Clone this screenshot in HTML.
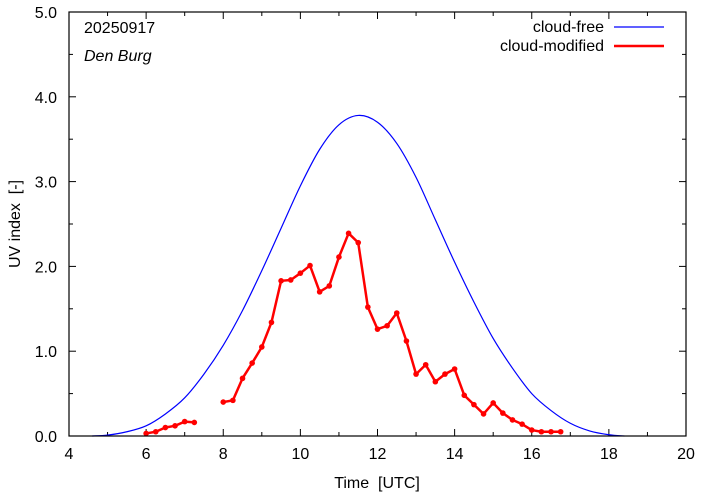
<!DOCTYPE html>
<html><head><meta charset="utf-8"><style>
html,body{margin:0;padding:0;background:#fff;}
svg{display:block;font-family:"Liberation Sans",sans-serif;}
svg text{white-space:pre;}
</style></head><body>
<svg id="chart" width="702" height="497" viewBox="0 0 702 497" xmlns="http://www.w3.org/2000/svg">
<g id="axes"></g>
<g id="series"></g>
<rect x="69" y="12" width="617" height="424" fill="none" stroke="#000" stroke-width="1.2"/>
<text x="84" y="33" font-size="16">20250917</text>
<text x="84" y="61" font-size="16" font-style="italic">Den Burg</text>
<text x="604" y="32" font-size="16" text-anchor="end">cloud-free</text>
<line x1="614" y1="27" x2="664" y2="27" stroke="#0000ff" stroke-width="1.2"/>
<text x="604" y="51" font-size="16" text-anchor="end">cloud-modified</text>
<line x1="614" y1="46" x2="664" y2="46" stroke="#ff0000" stroke-width="2.5"/>
<text x="377" y="488" font-size="16" text-anchor="middle" xml:space="preserve">Time  [UTC]</text>
<text transform="translate(20,224) rotate(-90)" font-size="16" text-anchor="middle" xml:space="preserve">UV index  [-]</text>
</svg>
<script>
const xTicks = [4,6,8,10,12,14,16,18,20];
const yTicks = [0,1,2,3,4,5];
const yTickLabels = ["0.0","1.0","2.0","3.0","4.0","5.0"];
const clearTimes = [4.6,5,5.5,6,6.5,7,7.5,8,8.5,9,9.5,10,10.5,11,11.5,12,12.5,13,13.5,14,14.5,15,15.5,16,16.5,17,17.5,18,18.4];
const clearValues = [0,0.01,0.05,0.12,0.26,0.45,0.73,1.07,1.48,1.95,2.45,2.95,3.38,3.67,3.78,3.70,3.45,3.05,2.55,2.05,1.58,1.15,0.8,0.5,0.3,0.15,0.06,0.015,0];
const cloudTimesA = [6,6.25,6.5,6.75,7,7.25];
const cloudValuesA = [0.03,0.05,0.10,0.12,0.17,0.16];
const cloudTimesB = [8,8.25,8.5,8.75,9,9.25,9.5,9.75,10,10.25,10.5,10.75,11,11.25,11.5,11.75,12,12.25,12.5,12.75,13,13.25,13.5,13.75,14,14.25,14.5,14.75,15,15.25,15.5,15.75,16,16.25,16.5,16.75];
const cloudValuesB = [0.40,0.42,0.68,0.86,1.05,1.34,1.83,1.84,1.92,2.01,1.70,1.77,2.11,2.39,2.28,1.52,1.26,1.30,1.45,1.12,0.73,0.84,0.64,0.73,0.79,0.48,0.37,0.26,0.39,0.27,0.19,0.14,0.07,0.05,0.05,0.05];

const X0=69,X1=686,Y0=436,Y1=12;
function sx(t){return X0+(t-4)/(20-4)*(X1-X0);}
function sy(v){return Y0-(v/5)*(Y0-Y1);}
const NS="http://www.w3.org/2000/svg";
function mk(tag,attrs,parent){const e=document.createElementNS(NS,tag);for(const k in attrs)e.setAttribute(k,attrs[k]);parent.appendChild(e);return e;}
const axes=document.getElementById('axes');
const series=document.getElementById('series');
xTicks.forEach(t=>{
  const x=sx(t);
  const l1=mk('line',{x1:x,y1:Y0,x2:x,y2:Y0-7,stroke:'#000'},axes);
  
  
  const l2=mk('line',{x1:x,y1:Y1,x2:x,y2:Y1+7,stroke:'#000'},axes);
  
  
  if(t<20){const xm=sx(t+1);
    const m1=mk('line',{x1:xm,y1:Y0,x2:xm,y2:Y0-4,stroke:'#000'},axes);
    
    
    const m2=mk('line',{x1:xm,y1:Y1,x2:xm,y2:Y1+4,stroke:'#000'},axes);
    
    }
  const tx=mk('text',{x:x,y:459,'font-size':16,'text-anchor':'middle'},axes);
  tx.textContent=String(t);
  
  
});
yTicks.forEach((v,i)=>{
  const y=sy(v);
  const l1=mk('line',{x1:X0,y1:y,x2:X0+7,y2:y,stroke:'#000'},axes);
  
  
  const l2=mk('line',{x1:X1,y1:y,x2:X1-7,y2:y,stroke:'#000'},axes);
  
  
  if(v<5){const ym=sy(v+0.5);
    const m1=mk('line',{x1:X0,y1:ym,x2:X0+4,y2:ym,stroke:'#000'},axes);
    
    
    const m2=mk('line',{x1:X1,y1:ym,x2:X1-4,y2:ym,stroke:'#000'},axes);
    
    }
  const tx=mk('text',{x:57,y:y+6,'font-size':16,'text-anchor':'end'},axes);
  tx.textContent=yTickLabels[i];
  
  
});
const P=clearTimes.map((t,i)=>[sx(t),sy(clearValues[i])]);
let d='M'+P[0][0]+','+P[0][1];
for(let i=0;i<P.length-1;i++){
  const p0=P[Math.max(0,i-1)],p1=P[i],p2=P[i+1],p3=P[Math.min(P.length-1,i+2)];
  const c1=[p1[0]+(p2[0]-p0[0])/6,p1[1]+(p2[1]-p0[1])/6];
  const c2=[p2[0]-(p3[0]-p1[0])/6,p2[1]-(p3[1]-p1[1])/6];
  d+=' C'+c1[0]+','+c1[1]+' '+c2[0]+','+c2[1]+' '+p2[0]+','+p2[1];
}
const cf=mk('path',{d:d,fill:'none',stroke:'#0000ff','stroke-width':1.2},series);


function drawRed(ts,vs,name){
  const pl=mk('polyline',{points:ts.map((t,i)=>sx(t)+','+sy(vs[i])).join(' '),fill:'none',stroke:'#ff0000','stroke-width':2.5,'stroke-linejoin':'round'},series);
  
  
  ts.forEach((t,i)=>{
    const c=mk('circle',{cx:sx(t),cy:sy(vs[i]),r:2.8,fill:'#ff0000'},series);
    
    
  });
}
drawRed(cloudTimesA,cloudValuesA,'cloud-modified-line-morning');
drawRed(cloudTimesB,cloudValuesB,'cloud-modified-line');
</script>
</body></html>
